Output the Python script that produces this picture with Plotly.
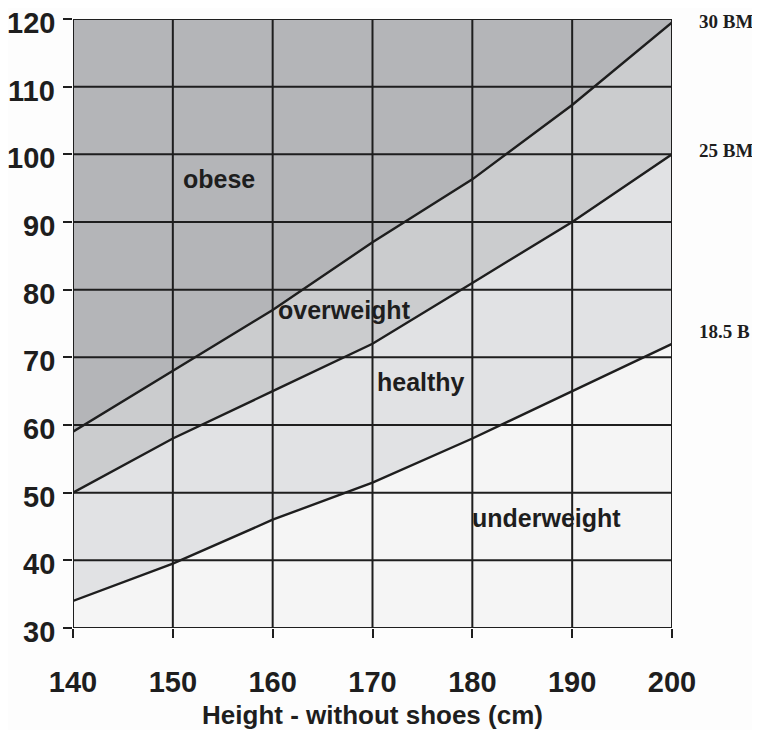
import plotly.graph_objects as go

heights = [140, 150, 160, 170, 180, 190, 200]
bmi_18_5 = [34, 39.5, 46, 51.5, 58, 65, 72]
bmi_25 = [50, 58, 65, 72, 81, 90, 100]
bmi_30 = [59, 68, 77, 87, 96.3, 107.3, 119.5]
y_min, y_max = 30, 120
x_ticks = [140, 150, 160, 170, 180, 190, 200]
y_ticks = [30, 40, 50, 60, 70, 80, 90, 100, 110, 120]
zone_names = ["obese", "overweight", "healthy", "underweight"]
zone_pos_x = [154.6, 167.2, 174.9, 187.4]
zone_pos_y = [96.3, 77.0, 66.4, 46.2]
line_labels = ["30 BM", "25 BM", "18.5 B"]
line_label_y = [119.7, 100.6, 73.8]

c_under = "#f5f5f5"
c_healthy = "#e1e2e4"
c_over = "#cbccce"
c_obese = "#b4b5b8"
ink = "#1e1e1e"

fig = go.Figure()
fig.add_trace(go.Scatter(x=heights, y=[y_min] * len(heights), mode="lines",
                         line=dict(width=0, color=ink), showlegend=False, hoverinfo="skip"))
fig.add_trace(go.Scatter(x=heights, y=bmi_18_5, mode="lines", fill="tonexty",
                         fillcolor=c_under, line=dict(color=ink, width=2.4), showlegend=False))
fig.add_trace(go.Scatter(x=heights, y=bmi_25, mode="lines", fill="tonexty",
                         fillcolor=c_healthy, line=dict(color=ink, width=2.4), showlegend=False))
fig.add_trace(go.Scatter(x=heights, y=bmi_30, mode="lines", fill="tonexty",
                         fillcolor=c_over, line=dict(color=ink, width=2.4), showlegend=False))
fig.add_trace(go.Scatter(x=heights, y=[y_max] * len(heights), mode="lines", fill="tonexty",
                         fillcolor=c_obese, line=dict(width=0, color=c_obese), showlegend=False))

# grid lines on top of the fills
for xv in x_ticks:
    fig.add_shape(type="line", xref="x", yref="y", x0=xv, x1=xv, y0=y_min, y1=y_max,
                  line=dict(color=ink, width=2), layer="above")
for yv in y_ticks:
    fig.add_shape(type="line", xref="x", yref="y", x0=x_ticks[0], x1=x_ticks[-1], y0=yv, y1=yv,
                  line=dict(color=ink, width=2), layer="above")

tick_font = dict(family="Liberation Sans", size=29, color=ink, weight="bold")

# y tick labels, set slightly below their tick marks as in the original
for yv in y_ticks:
    fig.add_annotation(x=-0.027, y=yv, xref="paper", yref="y", text=str(yv), showarrow=False,
                       xanchor="right", yanchor="middle", yshift=-4, font=tick_font)

for name, xv, yv in zip(zone_names, zone_pos_x, zone_pos_y):
    fig.add_annotation(x=xv, y=yv, xref="x", yref="y", text=name, showarrow=False,
                       font=dict(family="Liberation Sans", size=25, color=ink, weight="bold"))

for lab, yv in zip(line_labels, line_label_y):
    fig.add_annotation(x=1.0417, y=yv, xref="paper", yref="y", text=lab, showarrow=False,
                       xanchor="left", yanchor="middle",
                       font=dict(family="Liberation Serif", size=19, color=ink, weight="bold"))

fig.update_xaxes(range=[140, 200], tickvals=x_ticks, ticks="outside", ticklen=9, tickwidth=2,
                 tickcolor=ink, showgrid=False, zeroline=False, showline=False,
                 tickfont=tick_font, ticklabelstandoff=19, automargin=False,
                 ticklabeloverflow="allow",
                 title=dict(text="Height - without shoes (cm)", standoff=18,
                            font=dict(family="Liberation Sans", size=26, color=ink, weight="bold")))
fig.update_yaxes(range=[30, 120], tickvals=y_ticks, ticks="outside", ticklen=9, tickwidth=2,
                 tickcolor=ink, showgrid=False, zeroline=False, showline=False,
                 showticklabels=False, automargin=False)

fig.update_layout(width=752, height=722, margin=dict(l=65, r=88, t=11, b=102),
                  paper_bgcolor="#fdfdfd", plot_bgcolor="#fdfdfd")
fig.write_html("out.html")
